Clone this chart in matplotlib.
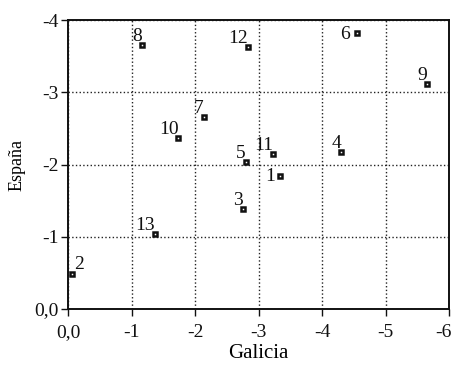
import matplotlib
matplotlib.use("Agg")
import matplotlib.pyplot as plt
from matplotlib.transforms import ScaledTranslation

# point labels and coordinates (Galicia, España)
labels = ["1", "2", "3", "4", "5", "6", "7", "8", "9", "10", "11", "12", "13"]
galicia = [-3.34, -0.06, -2.75, -4.30, -2.80, -4.55, -2.14, -1.16, -5.66, -1.74, -3.23, -2.84, -1.37]
espana = [-1.84, -0.49, -1.38, -2.17, -2.03, -3.82, -2.66, -3.66, -3.12, -2.36, -2.15, -3.63, -1.04]

x_ticks = [0, -1, -2, -3, -4, -5, -6]
x_ticklabels = ["0,0", "-1", "-2", "-3", "-4", "-5", "-6"]
y_ticks = [0, -1, -2, -3, -4]
y_ticklabels = ["0,0", "-1", "-2", "-3", "-4"]

plt.rcParams["font.family"] = ["Liberation Serif", "DejaVu Serif"]

fig = plt.figure(figsize=(4.54, 3.65), dpi=100)
ax = fig.add_axes([0.1498, 0.1534, 0.8392, 0.7918])

ax.plot(galicia, espana, linestyle="none", marker="s", markersize=3.5,
        markerfacecolor="white", markeredgecolor="#111111", markeredgewidth=1.8,
        zorder=3)

# label offsets in pixels (most sit just above-left of the point)
special = {"6": (-7, -6, "right"), "1": (-5, -5, "right"), "2": (2, 5, "left")}
for lab, gx, ey in zip(labels, galicia, espana):
    dx, dy, ha = special.get(lab, (0, 4, "right"))
    ax.annotate(lab, (gx, ey), xytext=(dx, dy), textcoords="offset pixels",
                ha=ha, va="baseline", fontsize=14, color="#111111")

ax.set_xlim(0, -6)
ax.set_ylim(0, -4)
ax.set_xticks(x_ticks)
ax.set_xticklabels(x_ticklabels)
ax.set_yticks(y_ticks)
ax.set_yticklabels(y_ticklabels)
ax.tick_params(axis="both", direction="out", length=5, width=1,
               labelsize=14, colors="#111111")
ax.tick_params(axis="x", pad=6)
ax.tick_params(axis="y", pad=2)

# last x tick label sits a bit inside the figure edge
last = ax.get_xticklabels()[-1]
last.set_transform(last.get_transform() + ScaledTranslation(-6 / 100, 0, fig.dpi_scale_trans))

ax.grid(True, linestyle=":", color="#222222", linewidth=1)
for s in ax.spines.values():
    s.set_linewidth(1.4)
    s.set_color("#111111")

ax.set_xlabel("Galicia", fontsize=15, labelpad=2)
ax.set_ylabel("España", fontsize=13, labelpad=6)

fig.savefig("out.png", dpi=100)
